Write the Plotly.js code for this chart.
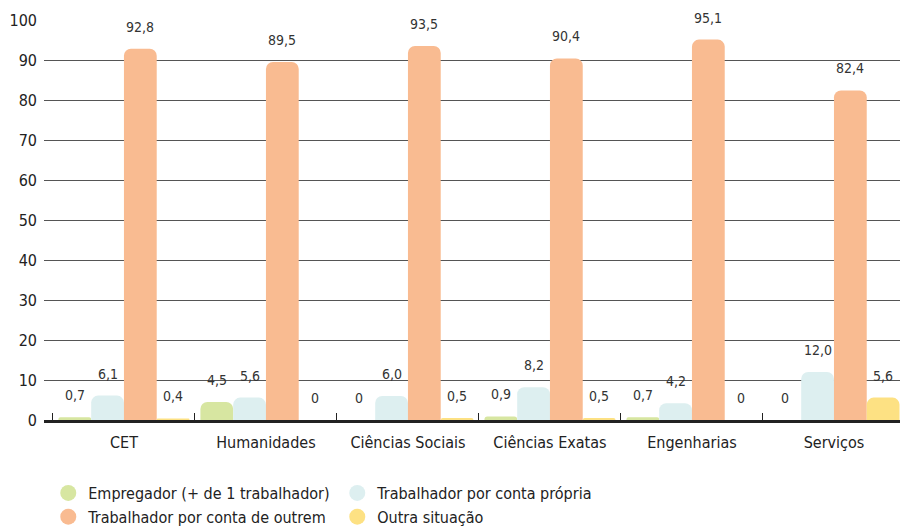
<!DOCTYPE html>
<html>
<head>
<meta charset="utf-8">
<script src="https://cdn.plot.ly/plotly-3.0.1.min.js"></script>
<style>
  html, body { margin: 0; padding: 0; background: #fff; }
  #chart { width: 902px; height: 526px; }
</style>
</head>
<body>
<div id="chart"></div>
<script>
const categories = ['CET', 'Humanidades', 'Ciências Sociais', 'Ciências Exatas', 'Engenharias', 'Serviços'];
const seriesNames = ['Empregador (+ de 1 trabalhador)', 'Trabalhador por conta própria', 'Trabalhador por conta de outrem', 'Outra situação'];
const empregador = [0.7, 4.5, 0, 0.9, 0.7, 0];
const contaPropria = [6.1, 5.6, 6.0, 8.2, 4.2, 12.0];
const contaOutrem = [92.8, 89.5, 93.5, 90.4, 95.1, 82.4];
const outraSituacao = [0.4, 0, 0.5, 0.5, 0, 5.6];
const yTicks = [0, 10, 20, 30, 40, 50, 60, 70, 80, 90, 100];

const seriesValues = [empregador, contaPropria, contaOutrem, outraSituacao];
const colors = ['#d7e6a1', '#ddeff0', '#f9bb91', '#fde183'];
const FONT = '"Liberation Sans Narrow", "DejaVu Sans Condensed", "Arial Narrow", sans-serif';
const bargap = 0.077;

function fmt(v) { return v === 0 ? '0' : v.toFixed(1).replace('.', ','); }

const traces = [];
seriesValues.forEach((vals, i) => {
  traces.push({
    type: 'bar', x: categories, y: vals, name: seriesNames[i],
    marker: { color: colors[i] }, showlegend: false, hoverinfo: 'skip'
  });
});
seriesValues.forEach((vals, i) => {
  traces.push({
    type: 'scatter', mode: 'markers', x: [null], y: [null], name: seriesNames[i],
    marker: { color: colors[i], size: 24, symbol: 'circle' }, showlegend: true, hoverinfo: 'skip'
  });
});

const w = (1 - bargap) / seriesValues.length;
const annotations = [];
seriesValues.forEach((vals, i) => {
  vals.forEach((v, j) => {
    annotations.push({
      x: j + (i - (seriesValues.length - 1) / 2) * w, y: v, xref: 'x', yref: 'y',
      text: fmt(v), showarrow: false, yanchor: 'middle', yshift: 22,
      font: { family: FONT, size: 14, color: '#333' }
    });
  });
});

const layout = {
  width: 902, height: 526,
  margin: { l: 44, r: 2, t: 20, b: 106, autoexpand: false },
  paper_bgcolor: '#fff', plot_bgcolor: '#fff',
  barmode: 'group', bargap: bargap, bargroupgap: 0, barcornerradius: 7,
  font: { family: FONT, size: 16, color: '#222' },
  xaxis: {
    type: 'category', range: [-0.563, 5.465], showgrid: false,
    showline: true, linecolor: '#222', linewidth: 3,
    ticks: 'inside', tickson: 'boundaries', ticklen: 7, tickcolor: '#222', tickwidth: 1,
    ticklabelstandoff: 6,
    tickfont: { family: FONT, size: 16, color: '#222' }, fixedrange: true
  },
  yaxis: {
    range: [0, 100], tickvals: yTicks, ticktext: yTicks.map(String),
    showgrid: true, gridcolor: '#555', gridwidth: 1, zeroline: false, showline: false,
    ticks: '', ticklabelstandoff: 6,
    tickfont: { family: FONT, size: 16, color: '#222' }, fixedrange: true
  },
  legend: {
    orientation: 'h', x: 0.005, xanchor: 'left', y: -0.14, yanchor: 'top',
    entrywidth: 244, entrywidthmode: 'pixels', tracegroupgap: 0,
    font: { family: FONT, size: 16, color: '#222' }, traceorder: 'normal',
    bgcolor: 'rgba(0,0,0,0)'
  },
  annotations: annotations,
  showlegend: true
};

Plotly.newPlot('chart', traces, layout, { displayModeBar: false, staticPlot: true });
</script>
</body>
</html>
